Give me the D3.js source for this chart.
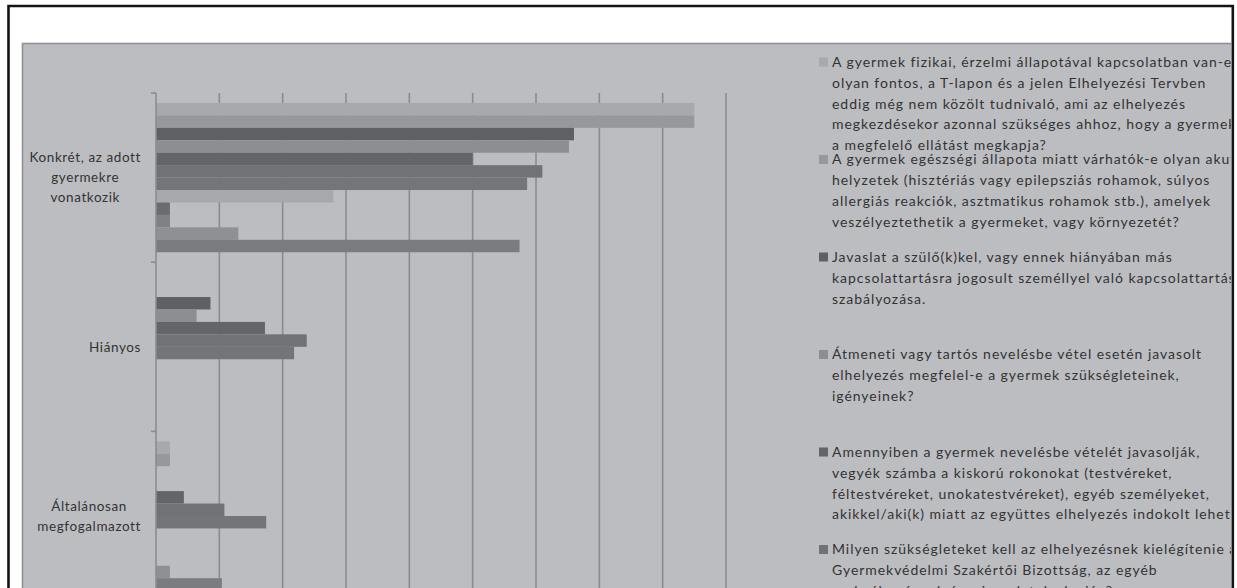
<!DOCTYPE html>
<html>
<head>
<meta charset="utf-8">
<script src="https://cdn.jsdelivr.net/npm/d3@7"></script>
<style>
  html, body { margin: 0; padding: 0; background: #ffffff; }
  svg { display: block; }
</style>
</head>
<body>
<svg id="chart" width="1237" height="588"></svg>
<script>
// Categories (one cluster of bars per category, top to bottom)
const categories = [
  "Konkrét, az adott\ngyermekre\nvonatkozik",
  "Hiányos",
  "Általánosan\nmegfogalmazott"
];

// One row per question (series), values per category
const series01 = [42.5, 0, 1.1];
const series02 = [42.5, 0, 1.1];
const series03 = [33.0, 4.3, 0];
const series04 = [32.6, 3.2, 0];
const series05 = [25.0, 8.6, 2.2];
const series06 = [30.5, 11.9, 5.4];
const series07 = [29.3, 10.9, 8.7];
const series08 = [14.0, 0, 0];
const series09 = [1.1, 0, 0];
const series10 = [1.1, 0, 0];
const series11 = [6.5, 0, 1.1];
const series12 = [28.7, 0, 5.2];
const seriesValues = [series01, series02, series03, series04, series05, series06,
                      series07, series08, series09, series10, series11, series12];

// Fill of each series
const seriesColors = ["#a8a9ad", "#97989c", "#5f6063", "#8d8e92", "#646568", "#717275",
                      "#747579", "#a7a8ac", "#6b6c6f", "#808185", "#8f9094", "#7b7c80"];

// Legend texts (line breaks as in the legend box)
const legendLabels = [
  ["A gyermek fizikai, érzelmi állapotával kapcsolatban van-e",
   "olyan fontos, a T-lapon és a jelen Elhelyezési Tervben",
   "eddig még nem közölt tudnivaló, ami az elhelyezés",
   "megkezdésekor azonnal szükséges ahhoz, hogy a gyermek",
   "a megfelelő ellátást megkapja?"],
  ["A gyermek egészségi állapota miatt várhatók-e olyan akut",
   "helyzetek (hisztériás vagy epilepsziás rohamok, súlyos",
   "allergiás reakciók, asztmatikus rohamok stb.), amelyek",
   "veszélyeztethetik a gyermeket, vagy környezetét?"],
  ["Javaslat a szülő(k)kel, vagy ennek hiányában más",
   "kapcsolattartásra jogosult személlyel való kapcsolattartás",
   "szabályozása."],
  ["Átmeneti vagy tartós nevelésbe vétel esetén javasolt",
   "elhelyezés megfelel-e a gyermek szükségleteinek,",
   "igényeinek?"],
  ["Amennyiben a gyermek nevelésbe vételét javasolják,",
   "vegyék számba a kiskorú rokonokat (testvéreket,",
   "féltestvéreket, unokatestvéreket), egyéb személyeket,",
   "akikkel/aki(k) miatt az együttes elhelyezés indokolt lehet."],
  ["Milyen szükségleteket kell az elhelyezésnek kielégítenie a",
   "Gyermekvédelmi Szakértői Bizottság, az egyéb",
   "szakvélemények és a javaslatok alapján?"]
];

// Value axis ticks (gridlines)
const xTicks = [0, 5, 10, 15, 20, 25, 30, 35, 40, 45];

const FONT = "Lato, 'Open Sans', sans-serif";
const TEXT = "#333333";

const svg = d3.select("#chart");

svg.append("defs").append("clipPath").attr("id", "frameClip")
  .append("rect").attr("x", 0).attr("y", 0).attr("width", 1231).attr("height", 588);

const root = svg.append("g").attr("clip-path", "url(#frameClip)");

// Grey chart panel
root.append("rect")
  .attr("x", 22.5).attr("y", 43.5)
  .attr("width", 1300).attr("height", 700)
  .attr("fill", "#bcbdc1")
  .attr("stroke", "#909195").attr("stroke-width", 1.6);

// Scales
const x = d3.scaleLinear().domain([0, 45]).range([156, 726]);
const y = d3.scaleBand().domain(categories).range([93, 600.6]).padding(0);
const ySeries = d3.scaleBand().domain(d3.range(seriesValues.length))
  .range([0, y.bandwidth()]).paddingInner(0).paddingOuter(0.8);

const plot = root.append("g");
const yBottom = y.range()[1];

// Vertical gridlines
plot.append("g").selectAll("line")
  .data(xTicks.filter(t => t > 0))
  .join("line")
  .attr("x1", d => x(d)).attr("x2", d => x(d))
  .attr("y1", 93).attr("y2", yBottom)
  .attr("stroke", "#8b8c90").attr("stroke-width", 1.6);

// Bars
const rows = [];
seriesValues.forEach((vals, s) => {
  vals.forEach((v, c) => rows.push({ s, cat: categories[c], v }));
});
plot.append("g").selectAll("rect")
  .data(rows.filter(d => d.v > 0))
  .join("rect")
  .attr("x", x(0))
  .attr("y", d => y(d.cat) + ySeries(d.s))
  .attr("width", d => x(d.v) - x(0))
  .attr("height", ySeries.bandwidth())
  .attr("fill", d => seriesColors[d.s]);

// Category axis with boundary ticks
const boundaries = categories.map(c => y(c)).concat([yBottom]);
plot.append("line")
  .attr("x1", x(0)).attr("x2", x(0)).attr("y1", 93).attr("y2", yBottom)
  .attr("stroke", "#8b8c90").attr("stroke-width", 1.6);
plot.append("g").selectAll("line")
  .data(boundaries)
  .join("line")
  .attr("x1", x(0) - 5).attr("x2", x(0))
  .attr("y1", d => d).attr("y2", d => d)
  .attr("stroke", "#8b8c90").attr("stroke-width", 1.6);

// Category labels: block right-aligned, lines centred inside it
const labelRight = 141;
categories.forEach(cat => {
  const lines = cat.split("\n");
  const cy = y(cat) + y.bandwidth() / 2;
  const g = plot.append("g");
  const texts = lines.map((ln, i) => g.append("text")
    .attr("y", cy + (i - (lines.length - 1) / 2) * 20)
    .attr("dy", "0.35em")
    .attr("text-anchor", "middle")
    .attr("font-family", FONT).attr("font-size", 13.5)
    .attr("letter-spacing", "0.6px")
    .attr("fill", TEXT)
    .text(ln));
  const w = d3.max(texts, t => t.node().getComputedTextLength());
  texts.forEach(t => t.attr("x", labelRight - w / 2));
});

// Legend
const legend = root.append("g");
const legendTop = 62, legendStep = 97.5, lineStep = 20.8;
legendLabels.forEach((lines, i) => {
  const ly = legendTop + i * legendStep;
  legend.append("rect")
    .attr("x", 819).attr("y", ly - 4.5)
    .attr("width", 9).attr("height", 9)
    .attr("fill", seriesColors[i]);
  lines.forEach((ln, j) => {
    legend.append("text")
      .attr("x", 832).attr("y", ly + j * lineStep)
      .attr("dy", "0.35em")
      .attr("font-family", FONT).attr("font-size", 14)
      .attr("letter-spacing", "0.95px")
      .attr("fill", TEXT)
      .text(ln);
  });
});

// Outer black frame
svg.append("path")
  .attr("d", "M8.5,700 L8.5,6 L1232.8,6 L1232.8,700")
  .attr("fill", "none").attr("stroke", "#141414").attr("stroke-width", 2.6);
</script>
</body>
</html>
